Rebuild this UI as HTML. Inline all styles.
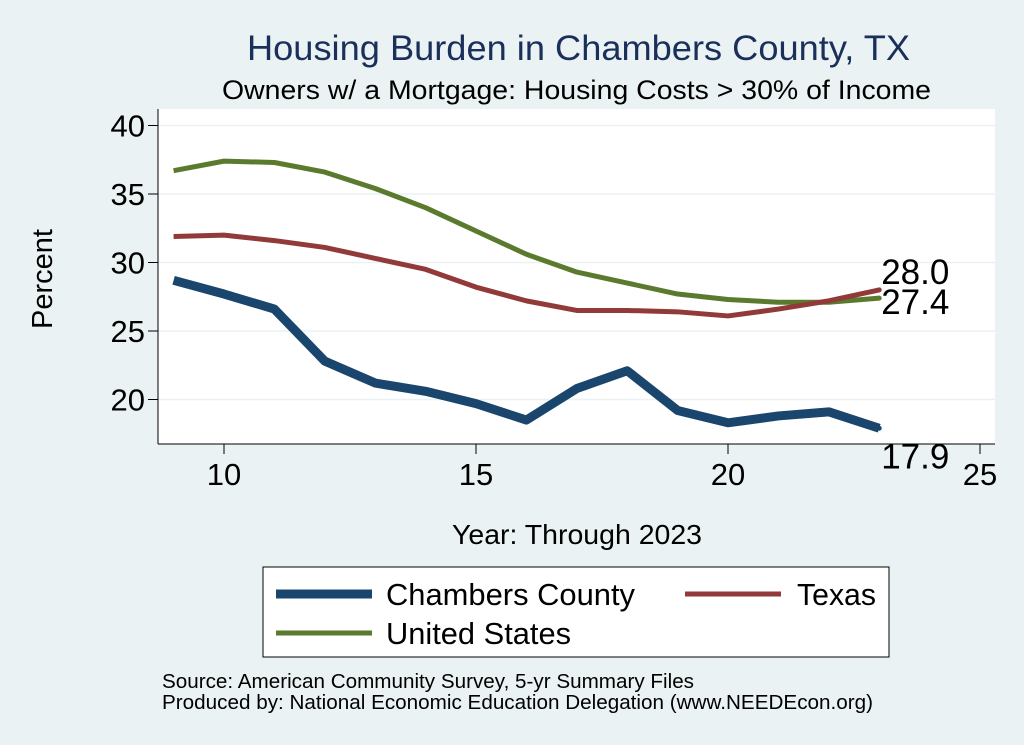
<!DOCTYPE html>
<html><head><meta charset="utf-8"><style>
body{margin:0;background:#eaf2f3;}
svg{display:block;font-family:"Liberation Sans",Arial,sans-serif;}
</style></head><body>
<svg id="c" width="1024" height="745" xmlns="http://www.w3.org/2000/svg">
<rect x="0" y="0" width="1024" height="745" fill="#eaf2f3"/>
<text x="247" y="60" font-size="35" fill="#1a2f5a" textLength="663" lengthAdjust="spacingAndGlyphs">Housing Burden in Chambers County, TX</text>
<text x="222" y="99" font-size="27" fill="#000" textLength="709" lengthAdjust="spacingAndGlyphs">Owners w/ a Mortgage: Housing Costs &gt; 30% of Income</text>
<rect x="158" y="109" width="837" height="335" fill="#fff"/>
<g id="grid"></g><g id="axes"></g><g id="series"></g>
<text x="52" y="279" font-size="29" text-anchor="middle" transform="rotate(-90 52 279)">Percent</text>
<text x="452" y="544" font-size="28" textLength="250" lengthAdjust="spacingAndGlyphs">Year: Through 2023</text>
<g>
<rect x="263" y="567" width="626" height="90" fill="#fff" stroke="#000" stroke-width="1"/>
<line x1="276" y1="594" x2="372" y2="594" stroke="#1a466e" stroke-width="9"/>
<text x="386" y="605" font-size="31" textLength="249" lengthAdjust="spacingAndGlyphs">Chambers County</text>
<line x1="685" y1="594" x2="781" y2="594" stroke="#923939" stroke-width="5"/>
<text x="797" y="605" font-size="31" textLength="79" lengthAdjust="spacingAndGlyphs">Texas</text>
<line x1="276" y1="633" x2="372" y2="633" stroke="#5a7b2e" stroke-width="5"/>
<text x="386" y="644" font-size="31" textLength="185" lengthAdjust="spacingAndGlyphs">United States</text>
</g>
<text x="162" y="688" font-size="20" textLength="532" lengthAdjust="spacingAndGlyphs">Source: American Community Survey, 5-yr Summary Files</text>
<text x="162" y="709" font-size="20" textLength="711" lengthAdjust="spacingAndGlyphs">Produced by: National Economic Education Delegation (www.NEEDEcon.org)</text>
</svg>
<script>
const years=[9,10,11,12,13,14,15,16,17,18,19,20,21,22,23];
const chambers=[28.7,27.7,26.6,22.8,21.2,20.6,19.7,18.5,20.8,22.1,19.2,18.3,18.8,19.1,17.9];
const texas=[31.9,32.0,31.6,31.1,30.3,29.5,28.2,27.2,26.5,26.5,26.4,26.1,26.6,27.2,28.0];
const us=[36.7,37.4,37.3,36.6,35.4,34.0,32.3,30.6,29.3,28.5,27.7,27.3,27.1,27.1,27.4];
const yTicks=[20,25,30,35,40];
const xTicks=[10,15,20,25];
const NS="http://www.w3.org/2000/svg";
const X=v=>224+(v-10)*50.4;
const Y=v=>399.5-(v-20)*13.7;
function mk(t,a,p){const e=document.createElementNS(NS,t);for(const k in a)e.setAttribute(k,a[k]);p.appendChild(e);return e;}
const g=document.getElementById('grid'),ax=document.getElementById('axes'),s=document.getElementById('series');
yTicks.forEach(v=>{
 const l=mk('line',{x1:158,x2:995,y1:Y(v),y2:Y(v),stroke:'#eaf2f3','stroke-width':1.5},g);
 
 
 const t=mk('line',{x1:148,x2:158,y1:Y(v),y2:Y(v),stroke:'#000'},ax);
 
 
 const tx=mk('text',{x:145,y:Y(v)+11,'font-size':31,'text-anchor':'end'},ax);tx.textContent=v;
 
 
});
xTicks.forEach(v=>{
 const t=mk('line',{x1:X(v),x2:X(v),y1:444,y2:454,stroke:'#000'},ax);
 
 
 const tx=mk('text',{x:X(v),y:485,'font-size':31,'text-anchor':'middle'},ax);tx.textContent=v;
 
 
});
const ya=mk('line',{x1:158,x2:158,y1:109,y2:444,stroke:'#000'},ax);


const xa=mk('line',{x1:158,x2:995,y1:444,y2:444,stroke:'#000'},ax);


function line(d,col,w,name){
 const p=mk('polyline',{points:years.map((y,i)=>X(y)+','+Y(d[i])).join(' '),fill:'none',stroke:col,'stroke-width':w,'stroke-linejoin':'round'},s);
 
 
 const n=d.length-1;
 const c=mk('circle',{cx:X(years[n]),cy:Y(d[n]),r:2.5,fill:col},s);
 
 
}
line(us,'#5a7b2e',5,'us-line');
line(texas,'#923939',5,'texas-line');
line(chambers,'#1a466e',9,'chambers-line');
const n=years.length-1;
const labs=[[texas[n],-6,'texas-end-label'],[us[n],16,'us-end-label'],[chambers[n],40,'chambers-end-label']];
labs.forEach(([v,dy,nm])=>{
 const t=mk('text',{x:X(years[n])+2,y:Y(v)+dy,'font-size':35},s);t.textContent=v.toFixed(1);
 
 
});
</script>
</body></html>
